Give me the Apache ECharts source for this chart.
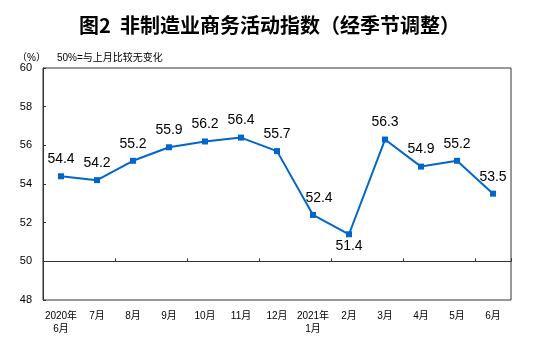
<!DOCTYPE html>
<html>
<head>
<meta charset="utf-8">
<script src="https://cdn.jsdelivr.net/npm/echarts@6/dist/echarts.min.js"></script>
<style>
html, body { margin: 0; padding: 0; background: #fff; }
#chart { width: 553px; height: 343px; }
</style>
</head>
<body>
<div id="chart"></div>
<script>
// Month labels (two-line labels where the year changes)
const categories = ['2020年\n6月', '7月', '8月', '9月', '10月', '11月', '12月',
  '2021年\n1月', '2月', '3月', '4月', '5月', '6月'];
// Non-manufacturing business activity index, seasonally adjusted (%)
const indexValues = [54.4, 54.2, 55.2, 55.9, 56.2, 56.4, 55.7, 52.4, 51.4, 56.3, 54.9, 55.2, 53.5];
// Y axis range
const yMin = 48, yMax = 60, yStep = 2;
const baseline = 50;

const chart = echarts.init(document.getElementById('chart'));
const lineColor = '#0066CC';
const cjk = 'Arial, "Liberation Sans", "Noto Sans CJK SC", sans-serif';

// Low point gets its value label underneath; the point before it is nudged right off the line
const lowIdx = indexValues.indexOf(Math.min(...indexValues));
const seriesData = indexValues.map((v, i) => {
  if (i === lowIdx) return { value: v, label: { position: 'bottom', distance: 2 } };
  if (i === lowIdx - 1) return { value: v, label: { offset: [6, 0] } };
  return v;
});

const gridTop = 68, gridBottom = 43;
const plotH = 343 - gridTop - gridBottom;
const baselineOffset = -plotH * (baseline - yMin) / (yMax - yMin);

chart.setOption({
  animation: false,
  backgroundColor: '#fff',
  title: [
    { text: '图2  非制造业商务活动指数（经季节调整）', left: 74, top: 10,
      textStyle: { fontSize: 20, fontWeight: 'bold', color: '#000', fontFamily: '"Noto Sans CJK SC", sans-serif' } },
    { text: '（%）', left: 12, top: 48,
      textStyle: { fontSize: 10, fontWeight: 'normal', color: '#000', fontFamily: cjk } },
    { text: '50%=与上月比较无变化', left: 52, top: 48,
      textStyle: { fontSize: 10, fontWeight: 'normal', color: '#000', fontFamily: cjk } }
  ],
  grid: { left: 43, right: 42, top: gridTop, bottom: gridBottom, show: true,
    borderColor: '#333', borderWidth: 1, backgroundColor: 'transparent' },
  xAxis: [
    {
      type: 'category', data: categories, boundaryGap: true, position: 'bottom',
      axisLine: { show: false }, axisTick: { show: false },
      axisLabel: { color: '#000', fontSize: 10, margin: 10, lineHeight: 13, fontFamily: cjk, interval: 0 }
    },
    {
      type: 'category', data: categories, boundaryGap: true, position: 'bottom',
      offset: baselineOffset,
      axisLine: { show: true, lineStyle: { color: '#333', width: 1 } },
      axisTick: { show: true, inside: true, length: 3, lineStyle: { color: '#333' } },
      axisLabel: { show: false }
    }
  ],
  yAxis: {
    type: 'value', min: yMin, max: yMax, interval: yStep,
    axisLine: { show: true, lineStyle: { color: '#333' } },
    axisTick: { show: true, inside: true, length: 3, lineStyle: { color: '#333' } },
    splitLine: { show: false },
    axisLabel: { color: '#000', fontSize: 11, margin: 11, fontFamily: cjk }
  },
  series: [{
    type: 'line', data: seriesData, xAxisIndex: 0,
    symbol: 'rect', symbolSize: 6,
    lineStyle: { color: lineColor, width: 2 },
    itemStyle: { color: lineColor },
    label: { show: true, position: 'top', distance: 7, color: '#000', fontSize: 14,
      fontFamily: 'Arial, "Liberation Sans", sans-serif' }
  }]
});
</script>
</body>
</html>
